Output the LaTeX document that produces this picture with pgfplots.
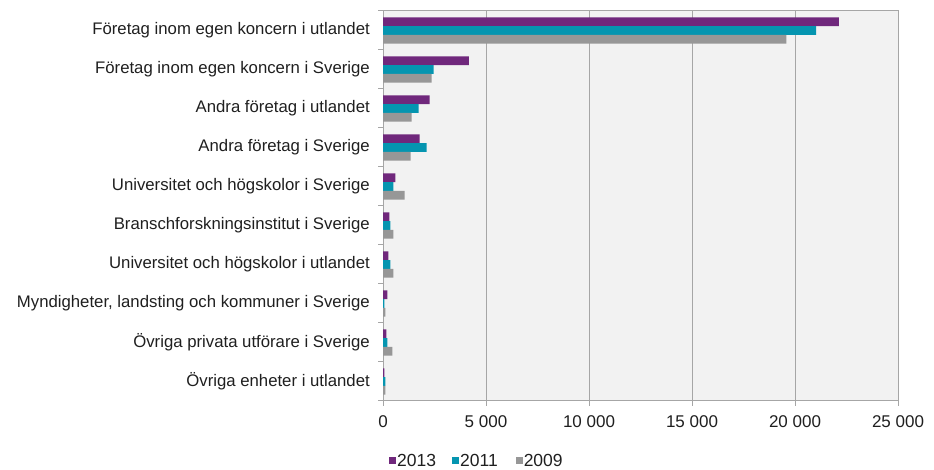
\documentclass[border=0pt]{standalone}
\usepackage{pgfplots}
\pgfplotsset{compat=1.18}
\usepackage{fontspec}
\setmainfont{Liberation Sans}
\definecolor{c13}{HTML}{70287C}
\definecolor{c11}{HTML}{0595B0}
\definecolor{c09}{HTML}{979797}
\definecolor{bg}{HTML}{F2F2F2}
\definecolor{gridc}{HTML}{A6A6A6}
\begin{document}
\begin{tikzpicture}[x=1pt,y=1pt]
\path[use as bounding box] (0,0) rectangle (934,470);
\begin{axis}[
  at={(383pt,69pt)}, anchor=south west,
  scale only axis, width=515pt, height=390pt,
  xbar, bar width=8.7pt,
  xmin=0, xmax=25000, ymin=-0.5, ymax=9.5,
  axis background/.style={fill=bg},
  axis line style={gridc, line width=1pt},
  xmajorgrids, grid style={gridc, line width=1pt},
  scaled x ticks=false,
  xtick={0,5000,10000,15000,20000,25000},
  xticklabels={0,5 000,10 000,15 000,20 000,25 000},
  minor xtick={0,5000,10000,15000,20000,25000},
  ytick={0,...,9},
  yticklabels={Övriga enheter i utlandet,Övriga privata utförare i Sverige,{Myndigheter, landsting och kommuner i Sverige},Universitet och högskolor i utlandet,Branschforskningsinstitut i Sverige,Universitet och högskolor i Sverige,Andra företag i Sverige,Andra företag i utlandet,Företag inom egen koncern i Sverige,Företag inom egen koncern i utlandet},
  minor ytick={-0.5,0.5,...,9.5},
  tick align=outside, xtick pos=bottom, ytick pos=left,
  major tick length=0pt, minor tick length=5pt,
  tick style={gridc, line width=1pt},
  minor tick style={gridc, line width=1pt},
  ticklabel style={font=\fontsize{16.75}{20}\selectfont, text=black!88},
  yticklabel style={inner sep=0pt, xshift=-13pt},
  xticklabel style={inner sep=0pt, yshift=-14.7pt, font=\fontsize{17}{20}\selectfont},
  legend columns=3,
  legend style={at={(0,-0.1538)}, anchor=west, xshift=6pt, draw=none, fill=none,
    font=\fontsize{17.5}{20}\selectfont, text=black!88, inner sep=0pt,
    nodes={inner sep=1pt}},
]
\addplot[fill=c13, draw=none, bar shift=8.7pt,
  legend image code/.code={\fill[c13] (0pt,-3.5pt) rectangle (7pt,3.5pt);}]
  coordinates {(22130,9) (4170,8) (2260,7) (1780,6) (600,5) (310,4) (260,3) (210,2) (160,1) (65,0)};
\addplot[fill=c11, draw=none, bar shift=0pt,
  legend image code/.code={\path (-15pt,0pt); \fill[c11] (0pt,-3.5pt) rectangle (7pt,3.5pt);}]
  coordinates {(21030,9) (2460,8) (1730,7) (2120,6) (500,5) (360,4) (360,3) (65,2) (210,1) (110,0)};
\addplot[fill=c09, draw=none, bar shift=-8.7pt,
  legend image code/.code={\path (-17pt,0pt); \fill[c09] (0pt,-3.5pt) rectangle (7pt,3.5pt);}]
  coordinates {(19580,9) (2360,8) (1390,7) (1340,6) (1050,5) (500,4) (500,3) (110,2) (450,1) (110,0)};
\legend{2013,2011,2009}
\end{axis}
\end{tikzpicture}
\end{document}
